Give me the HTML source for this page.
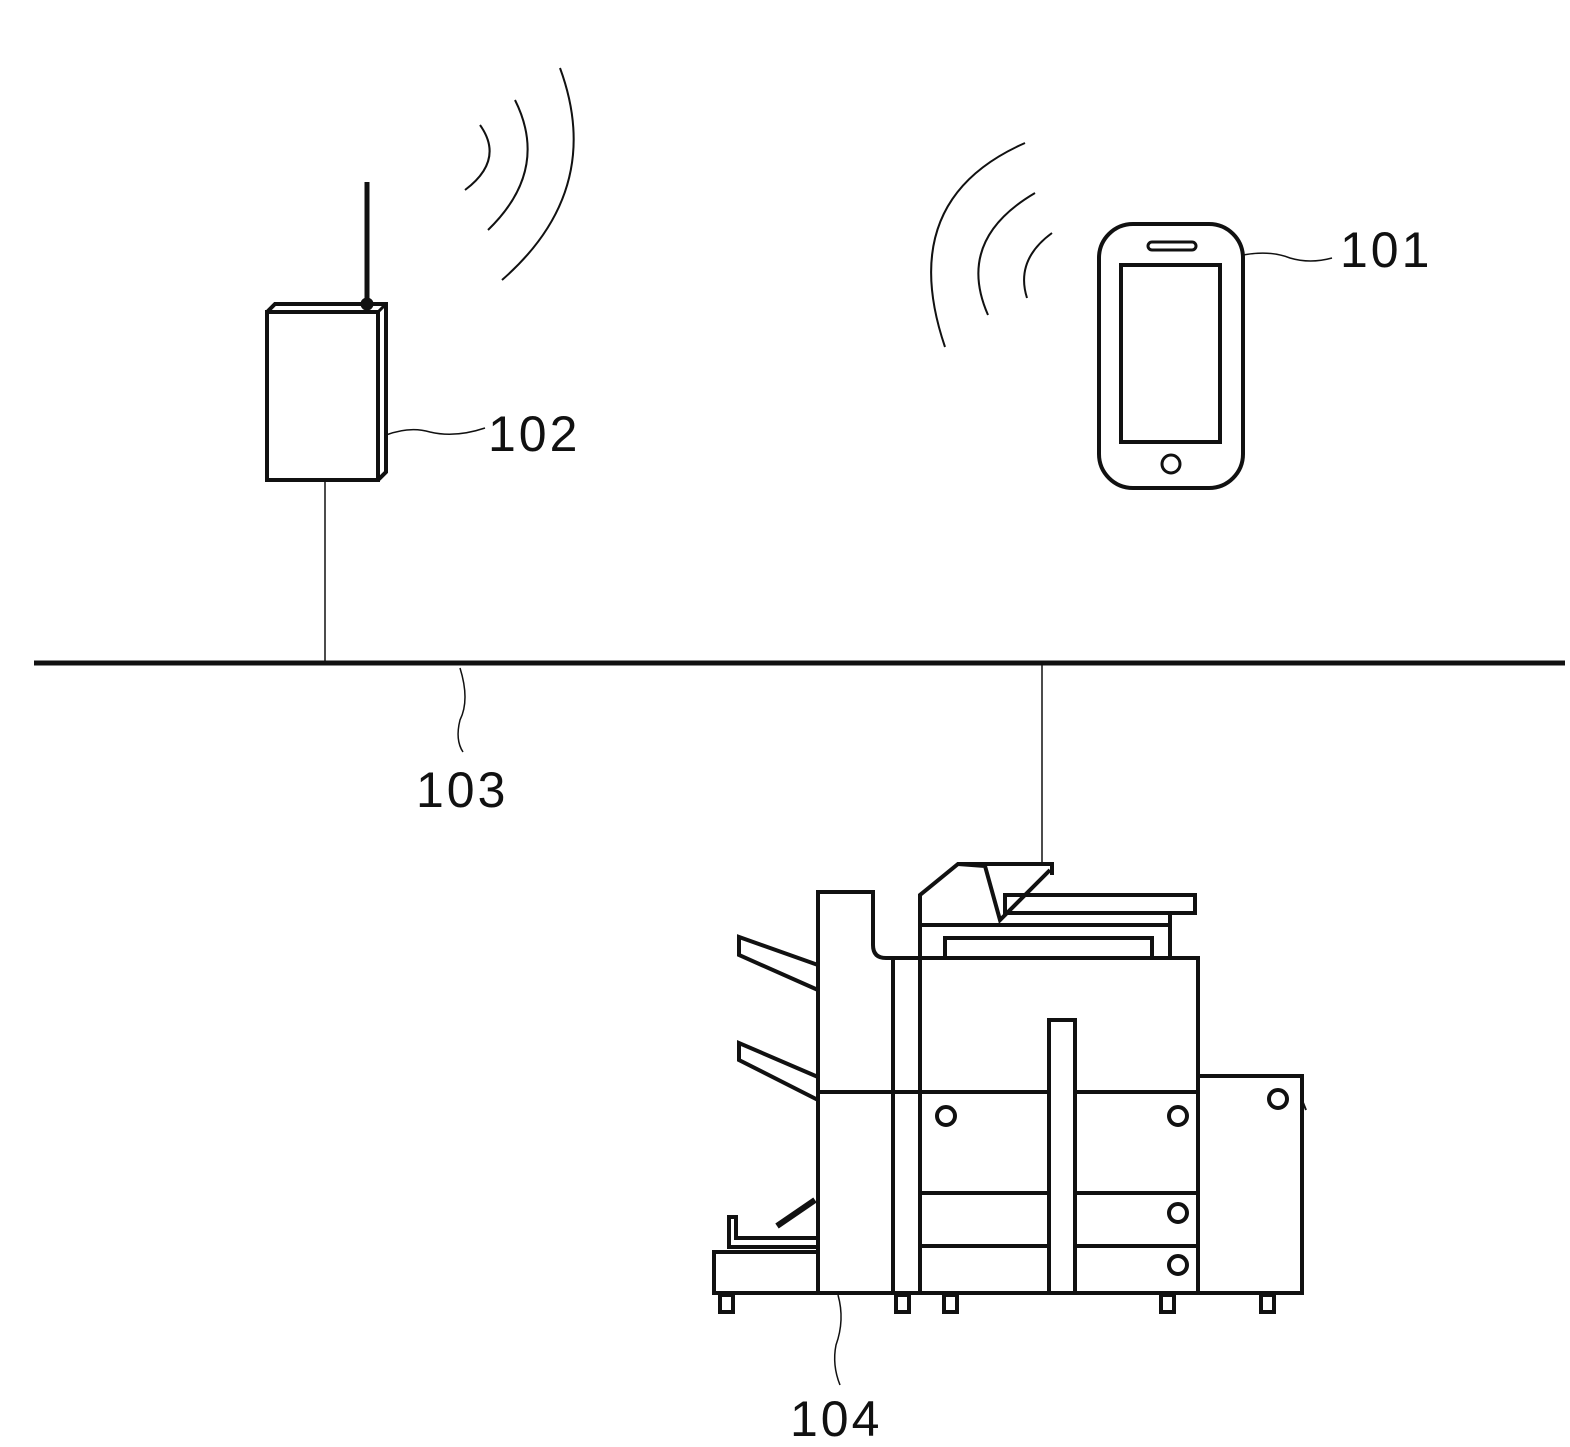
<!DOCTYPE html>
<html><head><meta charset="utf-8"><style>html,body{margin:0;padding:0;background:#fff}svg{display:block}</style></head>
<body>
<svg width="1570" height="1447" viewBox="0 0 1570 1447" xmlns="http://www.w3.org/2000/svg" font-family="Liberation Sans, sans-serif">
<g fill="none" stroke="#111" stroke-width="3">
<path d="M480,125 Q505,160 465,190" stroke-width="2"/>
<path d="M515,100 Q550,170 488,230" stroke-width="2"/>
<path d="M560,68 Q605,190 502,280" stroke-width="2"/>
<path d="M1052,233 Q1015,260 1027,298" stroke-width="2"/>
<path d="M1035,193 Q955,240 988,315" stroke-width="2"/>
<path d="M1025,143 Q895,200 945,347" stroke-width="2"/>
<line x1="367" y1="182" x2="367" y2="303" stroke-width="5"/>
<rect x="267" y="312" width="111" height="168" stroke-width="4"/>
<path d="M267,312 L275,304 L386,304 L386,472 L378,480" stroke-width="4"/>
<line x1="378" y1="312" x2="386" y2="304" stroke-width="3"/>
<circle cx="367" cy="304" r="5" fill="#111"/>
<line x1="325" y1="480" x2="325" y2="662" stroke-width="1.5"/>
<path d="M386,435 Q410,426 430,432 Q455,438 485,428" stroke-width="1.5"/>
<line x1="34" y1="663" x2="1565" y2="663" stroke-width="5"/>
<path d="M460,668 Q470,700 460,720 Q455,740 463,752" stroke-width="1.5"/>
<line x1="1042" y1="663" x2="1042" y2="865" stroke-width="1.5"/>
<rect x="1099" y="224" width="144" height="264" rx="34" stroke-width="4"/>
<rect x="1121" y="265" width="99" height="177" stroke-width="4"/>
<rect x="1148" y="242" width="48" height="8" rx="4" stroke-width="3"/>
<circle cx="1171" cy="464" r="9" stroke-width="3"/>
<path d="M1243,255 Q1270,250 1290,258 Q1310,264 1332,258" stroke-width="1.5"/>
<g stroke-width="4" stroke-linejoin="miter">
<path d="M818,1293 L818,892 L873,892 L873,945 Q873,958 886,958 L1198,958 L1198,1293 Z"/>
<line x1="893" y1="958" x2="893" y2="1293"/>
<line x1="920" y1="958" x2="920" y2="1293"/>
<path d="M920,958 L920,895 L958,864 L1052,864 L1052,875"/>
<path d="M958,864 L985,866 L1000,920 L1050,870"/>
<line x1="920" y1="925" x2="1170" y2="925"/>
<line x1="1170" y1="915" x2="1170" y2="958"/>
<rect x="1005" y="895" width="190" height="18"/>
<rect x="945" y="938" width="207" height="20"/>
<line x1="818" y1="1092" x2="1198" y2="1092"/>
<line x1="920" y1="1193" x2="1198" y2="1193"/>
<line x1="920" y1="1246" x2="1198" y2="1246"/>
<rect x="1049" y="1020" width="26" height="273" fill="#fff"/>
<rect x="1198" y="1076" width="104" height="217"/>
<path d="M1302,1100 L1306,1110" stroke-width="2"/>
<circle cx="946" cy="1116" r="9"/>
<circle cx="1178" cy="1116" r="9"/>
<circle cx="1278" cy="1099" r="9"/>
<circle cx="1178" cy="1213" r="9"/>
<circle cx="1178" cy="1265" r="9"/>
<path d="M818,965 L739,937 L739,955 L818,990"/>
<path d="M818,1077 L739,1043 L739,1060 L818,1100"/>
<path d="M777,1226 L815,1200" stroke-width="6"/>
<rect x="714" y="1252" width="104" height="41"/>
<path d="M818,1238 L736,1238 L736,1217 L729,1217 L729,1247 L818,1247"/>
<rect x="720" y="1295" width="13" height="17"/>
<rect x="896" y="1295" width="13" height="17"/>
<rect x="944" y="1295" width="13" height="17"/>
<rect x="1161" y="1295" width="13" height="17"/>
<rect x="1261" y="1295" width="13" height="17"/>
</g>
<path d="M838,1295 Q845,1320 836,1345 Q832,1365 840,1385" stroke-width="1.5"/>
</g>
<g font-size="50" fill="#111" letter-spacing="3">
<text x="1340" y="267">101</text>
<text x="488" y="451">102</text>
<text x="416" y="807">103</text>
<text x="790" y="1436">104</text>
</g>
</svg>
</body></html>
